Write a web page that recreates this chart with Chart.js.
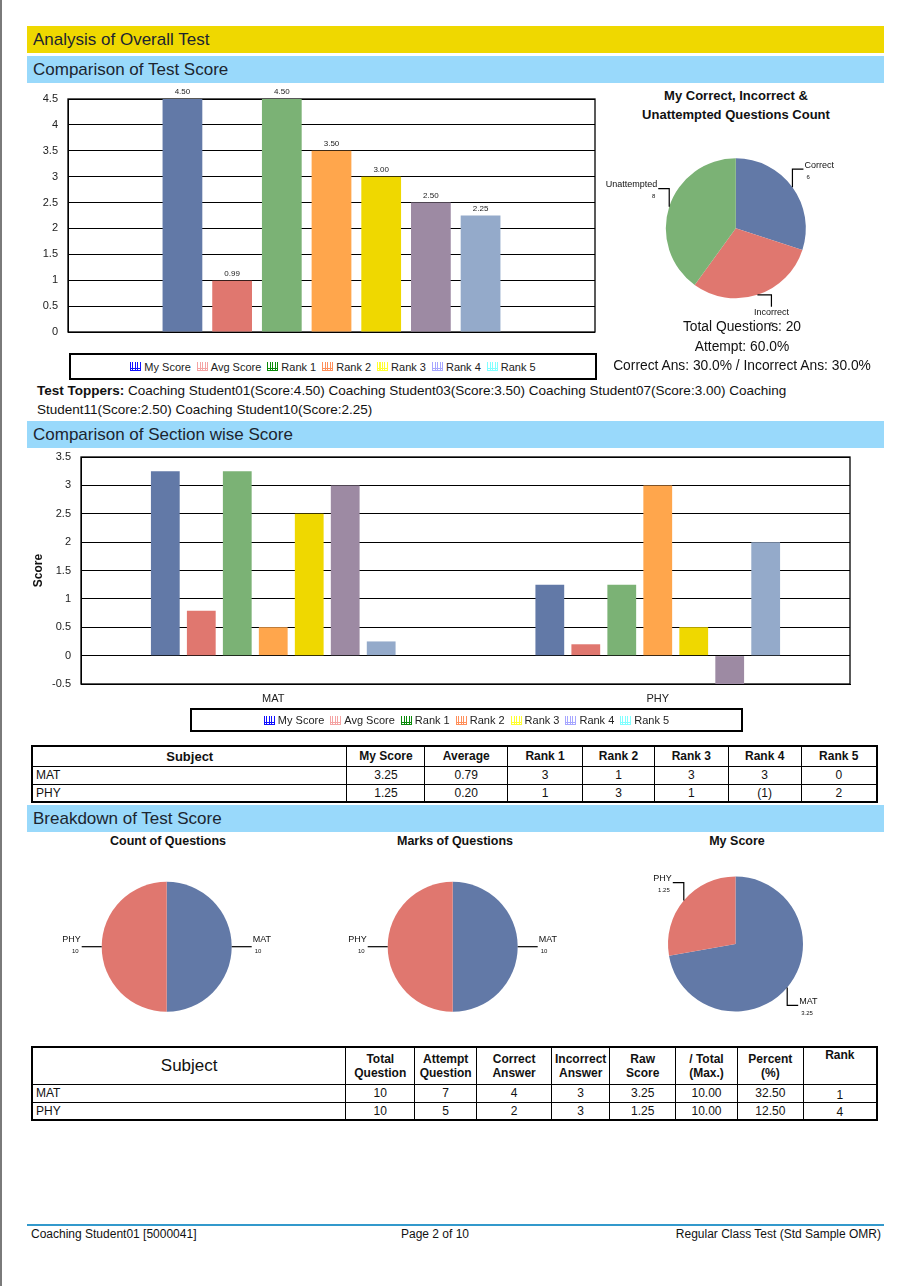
<!DOCTYPE html>
<html>
<head>
<meta charset="utf-8">
<script src="https://cdn.jsdelivr.net/npm/chart.js@4/dist/chart.umd.min.js"></script>
<style>
  html, body { margin: 0; padding: 0; background: #fff; }
  body { width: 910px; height: 1286px; position: relative; overflow: hidden;
         font-family: "Liberation Sans", Arial, sans-serif; color: #111; }
  .pageborder { position: absolute; left: 0; top: 0; width: 2px; height: 1286px; background: #7a7a7a; }
  .hdr { position: absolute; left: 27px; width: 851px; height: 27px; line-height: 27px;
         padding-left: 6px; font-size: 17px; color: #1c2530; }
  .yellow { background: #efd800; }
  .blue { background: #99d9fb; }
  .abs { position: absolute; }
  canvas { display: block; }
  .legend { position: absolute; border: 2px solid #000; box-sizing: border-box; display: flex;
            align-items: center; justify-content: center; font-size: 11px; color: #222; }
  .legend .item { display: flex; align-items: center; margin: 0 3px; }
  .legend .ico { width: 11px; height: 9px; margin-right: 3px; box-sizing: border-box; }
  table { position: absolute; border-collapse: collapse; font-size: 12px; color: #111; }
  td, th { border: 1px solid #000; padding: 0 3px; text-align: center; }
  th { font-weight: bold; }
  td.l { text-align: left; }
  .toppers { position: absolute; left: 37px; top: 381px; font-size: 13.5px; line-height: 19px; color: #111; }
  .ptitle { position: absolute; text-align: center; font-weight: bold; font-size: 12.5px; color: #111; }
  .stats { position: absolute; left: 602px; width: 280px; top: 317px; text-align: center; font-size: 13.8px; line-height: 19.5px; color: #111; }
  .footline { position: absolute; left: 27px; top: 1224px; width: 857px; height: 2px; background: #3399cc; }
  .foot { position: absolute; top: 1227px; font-size: 12px; color: #111; }
</style>
</head>
<body>
<div class="pageborder"></div>

<div class="hdr yellow" style="top:26px;">Analysis of Overall Test</div>
<div class="hdr blue" style="top:56px;">Comparison of Test Score</div>
<div class="hdr blue" style="top:421px;">Comparison of Section wise Score</div>
<div class="hdr blue" style="top:805px;">Breakdown of Test Score</div>

<div class="abs" style="left:30px; top:85px; width:572px; height:255px;"><canvas id="c1"></canvas></div>
<div class="legend" id="lg1" style="left:69px; top:353px; width:528px; height:27px;"></div>

<div class="ptitle" style="left:616px; top:86px; width:240px; font-size:13px; line-height:19px;">My Correct, Incorrect &amp;<br>Unattempted Questions Count</div>
<div class="abs" style="left:600px; top:140px; width:270px; height:195px;"><canvas id="p0"></canvas></div>
<div class="stats" id="stats"></div>

<div class="toppers" id="toppers"></div>

<div class="abs" style="left:25px; top:450px; width:835px; height:262px;"><canvas id="c2"></canvas></div>
<div class="legend" id="lg2" style="left:190px; top:708px; width:553px; height:24px;"></div>

<table id="t1" style="left:31px; top:745px; width:847px;"></table>

<div class="ptitle" style="left:68px; top:834px; width:200px;">Count of Questions</div>
<div class="ptitle" style="left:355px; top:834px; width:200px;">Marks of Questions</div>
<div class="ptitle" style="left:637px; top:834px; width:200px;">My Score</div>
<div class="abs" style="left:40px; top:865px; width:255px; height:165px;"><canvas id="p1"></canvas></div>
<div class="abs" style="left:326px; top:865px; width:255px; height:165px;"><canvas id="p2"></canvas></div>
<div class="abs" style="left:610px; top:860px; width:255px; height:170px;"><canvas id="p3"></canvas></div>

<table id="t2" style="left:31px; top:1046px; width:847px;"></table>

<div class="footline"></div>
<div class="foot" style="left:31px;">Coaching Student01 [5000041]</div>
<div class="foot" style="left:335px; width:200px; text-align:center;">Page 2 of 10</div>
<div class="foot" style="right:29px;">Regular Class Test (Std Sample OMR)</div>

<script>
// ---------------- DATA ----------------
const seriesNames = ['My Score', 'Avg Score', 'Rank 1', 'Rank 2', 'Rank 3', 'Rank 4', 'Rank 5'];
const overallScores = [4.50, 0.99, 4.50, 3.50, 3.00, 2.50, 2.25];
const overallTicks = [0, 0.5, 1, 1.5, 2, 2.5, 3, 3.5, 4, 4.5];

const subjects = ['MAT', 'PHY'];
const secMyScore = [3.25, 1.25];
const secAvg     = [0.79, 0.20];
const secRank1   = [3.25, 1.25];
const secRank2   = [0.50, 3.00];
const secRank3   = [2.50, 0.50];
const secRank4   = [3.00, -0.50];
const secRank5   = [0.25, 2.00];
const sectionTicks = [-0.5, 0, 0.5, 1, 1.5, 2, 2.5, 3, 3.5];

const answerLabels = ['Correct', 'Incorrect', 'Unattempted'];
const answerCounts = [6, 6, 8];

const countOfQuestions = [10, 10];
const marksOfQuestions = [10, 10];
const myScoreBySubject = [3.25, 1.25];

const totalQuestion   = [10, 10];
const attemptQuestion = [7, 5];
const correctAnswer   = [4, 2];
const incorrectAnswer = [3, 3];
const totalMax        = [10.00, 10.00];
const subjectRank     = [1, 4];

const toppers = ['Coaching Student01', 'Coaching Student03', 'Coaching Student07', 'Coaching Student11', 'Coaching Student10'];
const topperScores = [4.50, 3.50, 3.00, 2.50, 2.25];

// ---------------- STYLES ----------------
const barColors = ['#6279a7', '#e0776f', '#7bb275', '#ffa64c', '#efd800', '#9d8aa3', '#94aaca'];
const legendColors = ['#1010ff', '#f4a3a3', '#0a8a0a', '#ff8f5a', '#ffff30', '#a6a6ff', '#80ffff'];
const pieColors = ['#6279a7', '#e0776f', '#7bb275'];
const FONT = '"Liberation Sans", Arial, sans-serif';

// ---------------- HELPERS ----------------
function legendHTML(el) {
  el.innerHTML = seriesNames.map((n, i) => {
    const c = legendColors[i];
    const bg = `repeating-linear-gradient(90deg, ${c} 0 1px, rgba(255,255,255,0) 1px 2.5px), linear-gradient(${c},${c})`;
    return `<span class="item"><span class="ico" style="background:${bg}; background-size:100% 100%, 100% 1px; background-position:0 0, 0 6px; background-repeat:no-repeat; border-bottom:1px solid ${c};"></span>${n}</span>`;
  }).join('');
}
legendHTML(document.getElementById('lg1'));
legendHTML(document.getElementById('lg2'));

const borderBox = {
  id: 'borderBox',
  beforeDatasetsDraw(chart) {
    const a = chart.chartArea, ctx = chart.ctx;
    ctx.save(); ctx.strokeStyle = '#000'; ctx.lineWidth = 1.3;
    ctx.strokeRect(a.left, a.top, a.right - a.left, a.bottom - a.top);
    ctx.restore();
  }
};

const valueLabels = {
  id: 'valueLabels',
  afterDatasetsDraw(chart) {
    const ctx = chart.ctx;
    ctx.save();
    ctx.font = '8px ' + FONT; ctx.fillStyle = '#222'; ctx.textAlign = 'center'; ctx.textBaseline = 'bottom';
    chart.data.datasets.forEach((ds, di) => {
      chart.getDatasetMeta(di).data.forEach((bar, i) => {
        ctx.fillText(Number(ds.data[i]).toFixed(2), bar.x, bar.y - 3);
      });
    });
    ctx.restore();
  }
};

const pieLabels = {
  id: 'pieLabels',
  afterDatasetsDraw(chart) {
    const ctx = chart.ctx;
    const meta = chart.getDatasetMeta(0);
    const vals = chart.data.datasets[0].data;
    ctx.save();
    ctx.strokeStyle = '#000'; ctx.lineWidth = 1.2; ctx.fillStyle = '#111';
    meta.data.forEach((arc, i) => {
      const p = arc.getProps(['x', 'y', 'outerRadius', 'startAngle', 'endAngle'], true);
      const mid = (p.startAngle + p.endAngle) / 2;
      const c = Math.cos(mid), s = Math.sin(mid);
      const ex = p.x + p.outerRadius * c, ey = p.y + p.outerRadius * s;
      const dx = c >= 0 ? 1 : -1, dy = s >= 0 ? 1 : -1;
      const name = chart.data.labels[i], val = String(vals[i]);
      ctx.beginPath(); ctx.moveTo(ex, ey);
      let tx, ty, mode;
      if (Math.abs(s) < 0.2) {
        tx = ex + dx * 20; ty = ey - 3; ctx.lineTo(ex + dx * 20, ey); mode = 'side';
      } else if (Math.abs(c) < 0.4) {
        ctx.lineTo(ex + dx * 14, ey); tx = ex + dx * 14; ty = ey + dy * 12; ctx.lineTo(tx, ty); mode = 'vert';
      } else {
        ctx.lineTo(ex, ey + dy * 18); tx = ex + dx * 11; ty = ey + dy * 18; ctx.lineTo(tx, ty); mode = 'side';
      }
      ctx.stroke();
      ctx.textBaseline = 'middle';
      if (mode === 'side') {
        ctx.textAlign = dx > 0 ? 'left' : 'right';
        ctx.font = '9px ' + FONT;
        ctx.fillText(name, tx + dx * 1, ty - 4);
        ctx.font = '6px ' + FONT;
        ctx.fillText(val, tx + dx * 3, ty + 8);
      } else {
        ctx.textAlign = 'center';
        ctx.font = '9px ' + FONT;
        ctx.fillText(name, tx, ty + dy * 6);
        ctx.font = '6px ' + FONT;
        ctx.fillText(val, tx, ty + dy * 17);
      }
    });
    ctx.restore();
  }
};

Chart.defaults.font.family = FONT;
Chart.defaults.color = '#222';
Chart.defaults.animation = false;

const plainTick = v => String(Number(v));

// ---------------- CHART 1: overall ----------------
new Chart(document.getElementById('c1'), {
  type: 'bar',
  data: {
    labels: [''],
    datasets: seriesNames.map((n, i) => ({
      label: n, data: [overallScores[i]], backgroundColor: barColors[i], borderWidth: 0,
      categoryPercentage: 0.66, barPercentage: 0.8
    }))
  },
  options: {
    responsive: true, maintainAspectRatio: false,
    layout: { padding: { top: 14, bottom: 8, right: 7, left: 0 } },
    plugins: { legend: { display: false }, tooltip: { enabled: false } },
    scales: {
      x: { display: false },
      y: {
        min: 0, max: 4.5,
        afterFit(scale) { scale.width = 38; scale.paddingTop = 0; scale.paddingBottom = 0; },
        afterBuildTicks(scale) { scale.ticks = overallTicks.map(v => ({ value: v })); },
        ticks: { padding: 10, font: { size: 11 }, color: '#222', callback: plainTick },
        grid: { color: '#000', lineWidth: 1, drawTicks: false },
        border: { display: true, color: '#000' }
      }
    }
  },
  plugins: [borderBox, valueLabels]
});

// ---------------- CHART 2: section wise ----------------
const sectionSeries = [secMyScore, secAvg, secRank1, secRank2, secRank3, secRank4, secRank5];
new Chart(document.getElementById('c2'), {
  type: 'bar',
  data: {
    labels: subjects,
    datasets: seriesNames.map((n, i) => ({
      label: n, data: sectionSeries[i], backgroundColor: barColors[i], borderWidth: 0,
      categoryPercentage: 0.655, barPercentage: 0.8
    }))
  },
  options: {
    responsive: true, maintainAspectRatio: false,
    layout: { padding: { top: 7, bottom: 0, right: 10, left: 6 } },
    plugins: { legend: { display: false }, tooltip: { enabled: false } },
    scales: {
      x: {
        afterFit(scale) { scale.height = 28; },
        ticks: { padding: 8, font: { size: 11 }, color: '#222' },
        grid: { display: false, drawTicks: false },
        border: { display: true, color: '#000' }
      },
      y: {
        min: -0.5, max: 3.5,
        afterFit(scale) { scale.width = 50; scale.paddingTop = 0; scale.paddingBottom = 0; },
        afterBuildTicks(scale) { scale.ticks = sectionTicks.map(v => ({ value: v })); },
        title: { display: true, text: 'Score', font: { size: 12, weight: 'bold' }, color: '#111', padding: { top: 0, bottom: 0 } },
        ticks: { padding: 10, font: { size: 11 }, color: '#222', callback: plainTick },
        grid: { color: '#000', lineWidth: 1, drawTicks: false },
        border: { display: true, color: '#000' }
      }
    }
  },
  plugins: [borderBox]
});

// ---------------- PIES ----------------
function makePie(id, labels, data, padding) {
  new Chart(document.getElementById(id), {
    type: 'pie',
    data: { labels, datasets: [{ data, backgroundColor: pieColors.slice(0, data.length), borderWidth: 0 }] },
    options: {
      responsive: true, maintainAspectRatio: false,
      layout: { padding },
      plugins: { legend: { display: false }, tooltip: { enabled: false } }
    },
    plugins: [pieLabels]
  });
}
makePie('p0', answerLabels, answerCounts, { left: 65.8, right: 64.2, top: 18.3, bottom: 36.7 });
makePie('p1', subjects, countOfQuestions, { left: 61.7, right: 63.3, top: 16.7, bottom: 18.3 });
makePie('p2', subjects, marksOfQuestions, { left: 61.7, right: 63.3, top: 16.7, bottom: 18.3 });
makePie('p3', subjects, myScoreBySubject, { left: 58, right: 62, top: 16.5, bottom: 18.5 });

// ---------------- TEXT ----------------
const totalQ = answerCounts.reduce((a, b) => a + b, 0);
const attemptPct = (answerCounts[0] + answerCounts[1]) / totalQ * 100;
document.getElementById('stats').innerHTML =
  `Total Questions: ${totalQ}<br>Attempt: ${attemptPct.toFixed(1)}%<br>Correct Ans: ${(answerCounts[0] / totalQ * 100).toFixed(1)}% / Incorrect Ans: ${(answerCounts[1] / totalQ * 100).toFixed(1)}%`;

const tparts = toppers.map((t, i) => `${t}(Score:${topperScores[i].toFixed(2)})`);
document.getElementById('toppers').innerHTML =
  `<b>Test Toppers:</b> ${tparts.slice(0, 3).join(' ')} Coaching<br>${tparts.slice(3).join(' ').replace(/^Coaching /, '')}`;

// ---------------- TABLES ----------------
function rnd(v) { const r = Math.sign(v) * Math.round(Math.abs(v)); return r < 0 ? `(${-r})` : String(r); }
const t1Widths = [316, 78, 83, 75, 72, 74, 73, 76];
let h1 = '<colgroup>' + t1Widths.map(w => `<col style="width:${w}px">`).join('') + '</colgroup>';
h1 += '<tr style="height:20px"><th style="font-size:13px">Subject</th><th>My Score</th><th>Average</th><th>Rank 1</th><th>Rank 2</th><th>Rank 3</th><th>Rank 4</th><th>Rank 5</th></tr>';
subjects.forEach((s, i) => {
  h1 += `<tr style="height:18px"><td class="l">${s}</td><td>${secMyScore[i].toFixed(2)}</td><td>${secAvg[i].toFixed(2)}</td>` +
        [secRank1, secRank2, secRank3, secRank4, secRank5].map(a => `<td>${rnd(a[i])}</td>`).join('') + '</tr>';
});
const t1 = document.getElementById('t1'); t1.innerHTML = h1; t1.style.border = '2px solid #000';

const t2Widths = [316, 69, 62, 75, 57, 66, 62, 66, 74];
let h2 = '<colgroup>' + t2Widths.map(w => `<col style="width:${w}px">`).join('') + '</colgroup>';
h2 += '<tr style="height:37px;"><th style="font-size:17px;font-weight:normal">Subject</th><th>Total<br>Question</th><th>Attempt<br>Question</th><th>Correct<br>Answer</th><th>Incorrect<br>Answer</th><th>Raw<br>Score</th><th>/ Total<br>(Max.)</th><th>Percent<br>(%)</th><th style="vertical-align:top">Rank</th></tr>';
subjects.forEach((s, i) => {
  h2 += `<tr style="height:18px"><td class="l">${s}</td><td>${totalQuestion[i]}</td><td>${attemptQuestion[i]}</td><td>${correctAnswer[i]}</td><td>${incorrectAnswer[i]}</td>` +
        `<td>${myScoreBySubject[i].toFixed(2)}</td><td>${totalMax[i].toFixed(2)}</td><td>${(myScoreBySubject[i] / totalMax[i] * 100).toFixed(2)}</td><td style="vertical-align:bottom">${subjectRank[i]}</td></tr>`;
});
const t2 = document.getElementById('t2'); t2.innerHTML = h2; t2.style.border = '2px solid #000';
</script>
</body>
</html>
